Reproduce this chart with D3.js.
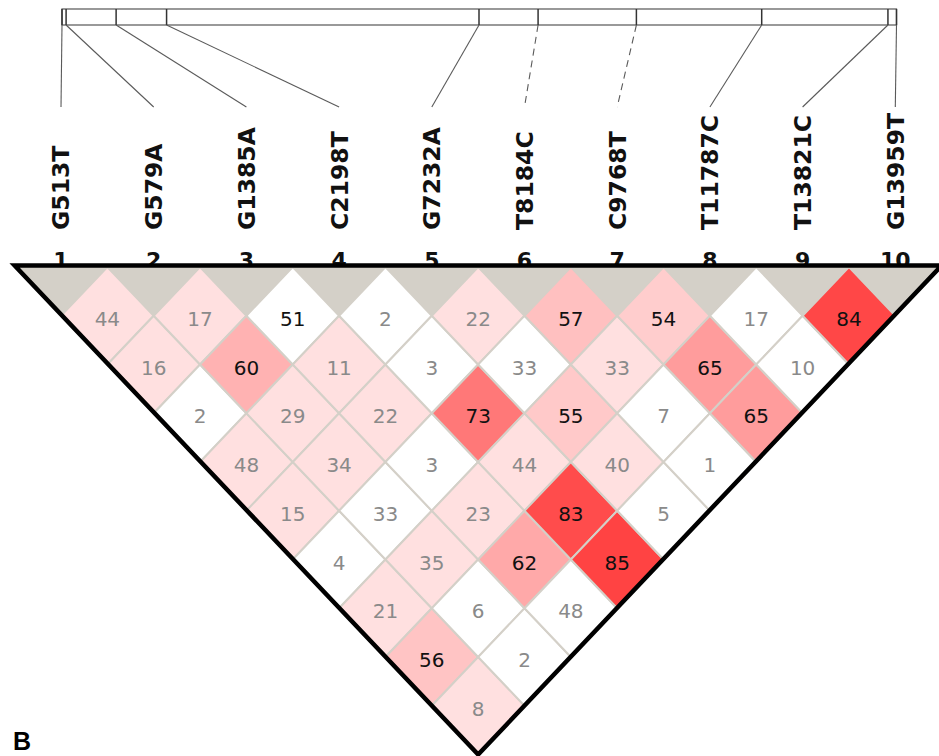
<!DOCTYPE html>
<html>
<head>
<meta charset="utf-8">
<script src="https://cdn.jsdelivr.net/npm/d3@7/dist/d3.min.js"></script>
<style>
  body { margin: 0; background: #ffffff; }
  svg { display: block; }
</style>
</head>
<body>
<svg id="chart" width="939" height="756"></svg>
<script>
// Markers, in map order
const snpNames = ["G513T", "G579A", "G1385A", "C2198T", "G7232A",
                  "T8184C", "C9768T", "T11787C", "T13821C", "G13959T"];
const snpPositions = [513, 579, 1385, 2198, 7232, 8184, 9768, 11787, 13821, 13959];
const snpNumbers = ["1", "2", "3", "4", "5", "6", "7", "8", "9", "10"];

// Pairwise D' (x100); row i holds pairs (i, j) for j > i
const dPrime = [
  [44, 16, 2, 48, 15, 4, 21, 56, 8],
  [17, 60, 29, 34, 33, 35, 6, 2],
  [51, 11, 22, 3, 23, 62, 48],
  [2, 3, 73, 44, 83, 85],
  [22, 33, 55, 40, 5],
  [57, 33, 7, 1],
  [54, 65, 65],
  [17, 10],
  [84]
];

// 1 where LOD >= 2 for the same pairs
const lodSignificant = [
  [1, 1, 0, 1, 1, 0, 1, 1, 1],
  [1, 1, 1, 1, 0, 1, 0, 0],
  [0, 1, 1, 0, 1, 1, 0],
  [0, 0, 1, 1, 1, 1],
  [1, 0, 1, 1, 0],
  [1, 1, 0, 0],
  [1, 1, 1],
  [0, 0],
  [1]
];

const svg = d3.select("#chart");
const n = snpNames.length;

// Marker columns and LD rows
const x = d3.scalePoint().domain(d3.range(n)).range([61, 895.3]);
const y = d3.scaleLinear().domain([0, n]).range([267, 754.5]);
const halfW = x.step() / 2;

// Physical map scale
const pos = d3.scaleLinear()
  .domain(d3.extent(snpPositions))
  .range([62, 896.5]);

// Haploview-style standard D'/LOD colouring
function boxColor(v, sig) {
  const d = v / 100;
  if (!sig) return "#ffffff";
  if (d < 0.5) return "rgb(255,224,224)";
  const g = Math.round(223 * 2 * (1 - d));
  return `rgb(${255},${g},${g})`;
}

// ---- physical map strip ----
const mapTop = 9, mapBottom = 25, connectorEnd = 107;
svg.append("rect")
  .attr("x", pos.range()[0]).attr("y", mapTop)
  .attr("width", pos.range()[1] - pos.range()[0])
  .attr("height", mapBottom - mapTop)
  .attr("fill", "#ffffff")
  .attr("stroke", "#555555")
  .attr("stroke-width", 1.2);

svg.append("g").selectAll("line")
  .data(snpPositions)
  .join("line")
  .attr("x1", d => pos(d)).attr("x2", d => pos(d))
  .attr("y1", mapTop).attr("y2", mapBottom)
  .attr("stroke", "#333333")
  .attr("stroke-width", 1.5);

svg.append("g").selectAll("line")
  .data(snpPositions)
  .join("line")
  .attr("x1", d => pos(d))
  .attr("y1", mapBottom)
  .attr("x2", (d, i) => x(i))
  .attr("y2", connectorEnd)
  .attr("stroke", "#5a5a5a")
  .attr("stroke-width", 1.1)
  .attr("stroke-dasharray", (d, i) => (i === 5 || i === 6) ? "7,5" : null);

// ---- marker names ----
svg.append("g").selectAll("text")
  .data(snpNames)
  .join("text")
  .attr("transform", (d, i) => `translate(${x(i)},230) rotate(-90)`)
  .attr("dy", "0.36em")
  .attr("text-anchor", "start")
  .attr("font-family", "DejaVu Sans, sans-serif")
  .attr("font-weight", "bold")
  .attr("font-size", 23.5)
  .attr("fill", "#111111")
  .text(d => d);

// ---- marker numbers ----
svg.append("g").selectAll("text")
  .data(snpNumbers)
  .join("text")
  .attr("x", (d, i) => x(i))
  .attr("y", 268)
  .attr("text-anchor", "middle")
  .attr("font-family", "DejaVu Sans, sans-serif")
  .attr("font-weight", "bold")
  .attr("font-size", 22)
  .attr("fill", "#111111")
  .text(d => d);

// ---- gray wedges between the first-row diamonds ----
svg.append("g").selectAll("path")
  .data(d3.range(n))
  .join("path")
  .attr("d", k => `M${x(k) - halfW},${y(0)}L${x(k) + halfW},${y(0)}L${x(k)},${y(1)}Z`)
  .attr("fill", "#d4d0c8");

// ---- LD diamonds ----
const cells = [];
dPrime.forEach((row, i) => row.forEach((v, k) => {
  const j = i + k + 1;
  cells.push({ i, j, v, sig: lodSignificant[i][k] });
}));

const cellG = svg.append("g").selectAll("g")
  .data(cells)
  .join("g")
  .attr("transform", d => `translate(${(x(d.i) + x(d.j)) / 2},${y(d.j - d.i)})`);

const halfH = y(1) - y(0);
cellG.append("path")
  .attr("d", `M0,${-halfH}L${halfW},0L0,${halfH}L${-halfW},0Z`)
  .attr("fill", d => boxColor(d.v, d.sig))
  .attr("stroke", "#d4d0c8")
  .attr("stroke-width", 2);

cellG.append("text")
  .attr("y", 10)
  .attr("text-anchor", "middle")
  .attr("font-family", "DejaVu Sans, sans-serif")
  .attr("font-size", 20)
  .attr("fill", d => d.v >= 50 ? "#111111" : "#8a8a8a")
  .text(d => d.v);

// ---- outer triangle ----
const left = x(0) - halfW, right = x(n - 1) + halfW, apexX = (x(0) + x(n - 1)) / 2;
svg.append("path")
  .attr("d", `M${left},${y(0) - 1.5}L${right},${y(0) - 1.5}L${apexX},${y(n)}Z`)
  .attr("fill", "none")
  .attr("stroke", "#000000")
  .attr("stroke-width", 4.5)
  .attr("stroke-linejoin", "miter");

// ---- panel letter ----
svg.append("text")
  .attr("x", 13).attr("y", 750)
  .attr("font-family", "Liberation Sans, Arial, sans-serif")
  .attr("font-weight", "bold")
  .attr("font-size", 25)
  .attr("fill", "#000000")
  .text("B");
</script>
</body>
</html>
